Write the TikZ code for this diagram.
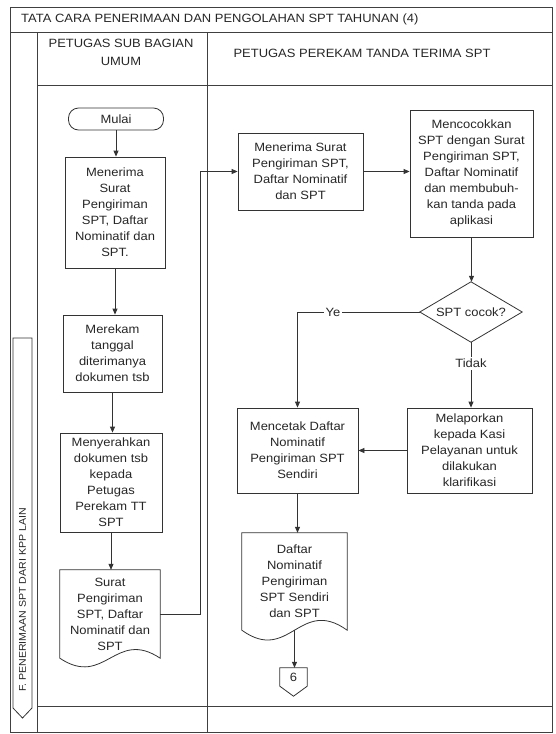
\documentclass[tikz,border=0pt]{standalone}
\usepackage{fontspec}
\setmainfont[FakeStretch=1.08]{Liberation Sans}
\usetikzlibrary{arrows.meta,calc}
\begin{document}
\begin{tikzpicture}[x=1pt,y=-1pt,
  ink/.style={draw=black!80, line width=0.8pt},
  lane/.style={draw=black!75, line width=0.9pt},
  every node/.style={font=\fontsize{12}{16}\selectfont, text=black!85, align=center, inner sep=0pt},
  procbox/.style={ink, rectangle},
  termbox/.style={ink, rectangle, rounded corners=10pt},
  shapebox/.style={rectangle},
  flow/.style={ink, -{Triangle[length=6pt,width=5pt]}},
  branchlabel/.style={fill=white, inner sep=2pt},
]
\useasboundingbox (0,0) rectangle (556,734);

% swimlane frame
\draw[lane] (10,7) rectangle (552,732);
\draw[lane] (10,32) -- (552,32);
\draw[lane] (37,32) -- (37,732);
\draw[lane] (37,85) -- (552,85);
\draw[lane] (207,32) -- (207,732);
\draw[lane] (37,706) -- (552,706);

% headings
\node[anchor=west] (title) at (21,19.5) {TATA CARA PENERIMAAN DAN PENGOLAHAN SPT TAHUNAN (4)};
\node[font=\fontsize{12}{18}\selectfont] (hleft) at (121,52) {PETUGAS SUB BAGIAN\\UMUM};
\node (hright) at (362,53) {PETUGAS PEREKAM TANDA TERIMA SPT};

% side label
\draw[ink] (13,338) -- (32,338) -- (32,708) -- (22.5,718) -- (13,708) -- cycle;
\node[rotate=90, font=\fontsize{9.8}{11}\selectfont] (side) at (22.5,600) {F. PENERIMAAN SPT DARI KPP LAIN};

% left lane
\node[termbox, minimum width=95, minimum height=22] (mulai) at (116,119) {Mulai};
\node[procbox, minimum width=100, minimum height=111] (b1) at (115,212.5)
  {Menerima\\Surat\\Pengiriman\\SPT, Daftar\\Nominatif dan\\SPT.};
\node[procbox, minimum width=99, minimum height=77] (b2) at (112.5,353.5)
  {Merekam\\tanggal\\diterimanya\\dokumen tsb};
\node[procbox, minimum width=102, minimum height=99] (b3) at (111,482.5)
  {Menyerahkan\\dokumen tsb\\kepada\\Petugas\\Perekam TT\\SPT};
\node[shapebox, minimum width=100, minimum height=88] (d4) at (110,614)
  {Surat\\Pengiriman\\SPT, Daftar\\Nominatif dan\\SPT};
\draw[ink] (d4.south west) -- (d4.north west) -- (d4.north east) -- (d4.south east)
  .. controls ($(d4.south east)!0.45!(d4.south west)+(0,-30)$) and ($(d4.south west)!0.45!(d4.south east)+(0,30)$) .. (d4.south west) -- cycle;

% right lane
\node[procbox, minimum width=125, minimum height=77] (bA) at (300.5,171.5)
  {Menerima Surat\\Pengiriman SPT,\\Daftar Nominatif\\dan SPT};
\node[procbox, minimum width=123, minimum height=127] (bB) at (471.5,173.5)
  {Mencocokkan\\SPT dengan Surat\\Pengiriman SPT,\\Daftar Nominatif\\dan membubuh-\\kan tanda pada\\aplikasi};
\node[shapebox, minimum width=102, minimum height=60] (dia) at (471,312) {SPT cocok?};
\draw[ink] (dia.north) -- (dia.east) -- (dia.south) -- (dia.west) -- cycle;
\node[procbox, minimum width=121, minimum height=85] (bC) at (297.5,450.5)
  {Mencetak Daftar\\Nominatif\\Pengiriman SPT\\Sendiri};
\node[procbox, minimum width=125, minimum height=85] (bD) at (469.5,450.5)
  {Melaporkan\\kepada Kasi\\Pelayanan untuk\\dilakukan\\klarifikasi};
\node[shapebox, minimum width=105, minimum height=97] (dE) at (294.5,581.5)
  {Daftar\\Nominatif\\Pengiriman\\SPT Sendiri\\dan SPT};
\draw[ink] (dE.south west) -- (dE.north west) -- (dE.north east) -- (dE.south east)
  .. controls ($(dE.south east)!0.45!(dE.south west)+(0,-34)$) and ($(dE.south west)!0.45!(dE.south east)+(0,34)$) .. (dE.south west) -- cycle;
\node[shapebox, minimum width=27, minimum height=18] (off) at (293.5,677) {6};
\draw[ink] (off.north west) -- (off.north east) -- (off.south east)
  -- ($(off.south)+(0,10)$) -- (off.south west) -- cycle;

% connectors
\coordinate (bend) at (200,0);
\draw[flow] (mulai.south) -- (mulai.south |- b1.north);
\draw[flow] (b1.south) -- (b1.south |- b2.north);
\draw[flow] (b2.south) -- (b2.south |- b3.north);
\draw[flow] (b3.south) -- (b3.south |- d4.north);
\draw[flow] (d4.east) -- (d4.east -| bend) |- (bA.west);
\draw[flow] (bA.east) -- (bA.east -| bB.west);
\draw[flow] (bB.south) -- (bB.south |- dia.north);
\draw[flow] (dia.west) -- node[branchlabel, pos=0.71] {Ye} (dia.west -| bC.north) -- (bC.north);
\draw[flow] (dia.south) -- node[branchlabel, pos=0.32] {Tidak} (dia.south |- bD.north);
\draw[flow] (bD.west) -- (bD.west -| bC.east);
\draw[flow] (bC.south) -- (bC.south |- dE.north);
\draw[flow] (dE.south) -- (dE.south |- off.north);
\end{tikzpicture}
\end{document}
